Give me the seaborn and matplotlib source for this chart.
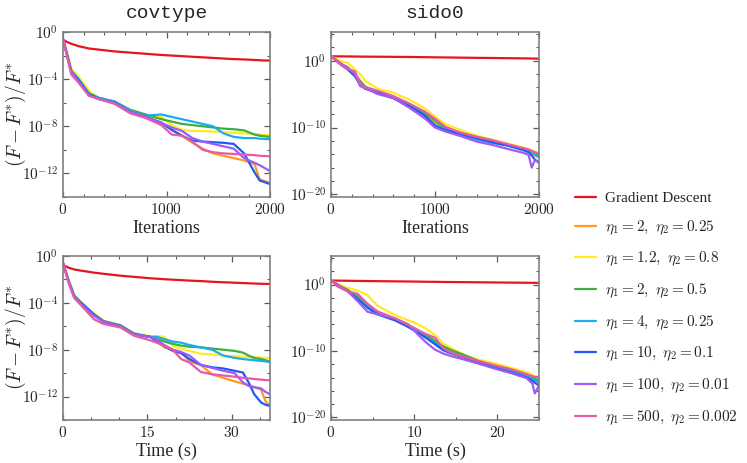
import matplotlib
matplotlib.use("Agg")
import matplotlib.pyplot as plt
from matplotlib.ticker import FixedLocator, MultipleLocator, NullFormatter
import numpy as np
import pandas as pd
import seaborn as sns

# legend entries, in drawing order
series_labels = [
    "Gradient Descent",
    r"$\eta_1 = 2,\ \eta_2 = 0.25$",
    r"$\eta_1 = 1.2,\ \eta_2 = 0.8$",
    r"$\eta_1 = 2,\ \eta_2 = 0.5$",
    r"$\eta_1 = 4,\ \eta_2 = 0.25$",
    r"$\eta_1 = 10,\ \eta_2 = 0.1$",
    r"$\eta_1 = 100,\ \eta_2 = 0.01$",
    r"$\eta_1 = 500,\ \eta_2 = 0.002$",
]
series_colors = ["#e6141e", "#ff9a1e", "#ffeb1e", "#3caf3c",
                 "#1eaaf0", "#1e5af5", "#a05af5", "#e65aaa"]

# covtype, x = iterations; values are log10 of the relative gap
cov_iter_x = [0, 40, 80, 150, 250, 350, 500, 650, 800, 950, 1050,
              1150, 1250, 1350, 1450, 1550, 1650, 1750, 1850, 1900, 2000]
cov_iter_exp = [
    [-0.65, -0.85, -1.0, -1.2, -1.4, -1.5, -1.65, -1.75, -1.85, -1.95, -2.0,
     -2.05, -2.1, -2.15, -2.2, -2.25, -2.3, -2.33, -2.37, -2.4, -2.43],
    [-0.6, -2.0, -3.4, -4.1, -5.3, -5.6, -6.0, -6.8, -7.2, -7.7, -8.3,
     -8.8, -9.4, -9.9, -10.3, -10.5, -10.7, -10.9, -11.2, -12.5, -12.8],
    [-0.6, -1.7, -3.1, -3.8, -5.0, -5.6, -6.0, -6.7, -7.0, -7.2, -7.9,
     -8.3, -8.4, -8.4, -8.45, -8.5, -8.55, -8.6, -8.65, -8.7, -8.75],
    [-0.6, -1.9, -3.3, -4.0, -5.2, -5.6, -5.9, -6.6, -7.0, -7.4, -7.6,
     -7.8, -7.9, -8.0, -8.1, -8.2, -8.25, -8.35, -8.7, -8.8, -8.9],
    [-0.6, -1.9, -3.3, -4.0, -5.3, -5.6, -5.9, -6.7, -7.1, -7.0, -7.2,
     -7.4, -7.6, -7.8, -8.0, -8.6, -8.9, -9.0, -9.0, -9.05, -9.1],
    [-0.6, -2.0, -3.4, -4.1, -5.3, -5.7, -6.0, -6.8, -7.2, -7.7, -8.3,
     -8.8, -9.2, -9.3, -9.35, -9.4, -9.5, -10.3, -11.9, -12.6, -12.9],
    [-0.6, -2.0, -3.4, -4.2, -5.4, -5.7, -6.0, -6.8, -7.2, -7.7, -8.1,
     -8.4, -9.0, -9.3, -9.5, -9.7, -9.9, -10.7, -11.1, -11.3, -11.8],
    [-0.6, -2.1, -3.6, -4.3, -5.4, -5.7, -6.1, -6.9, -7.3, -7.9, -8.7,
     -8.8, -9.3, -10.0, -10.2, -10.3, -10.35, -10.4, -10.45, -10.5, -10.55],
]

# covtype, x = time (s)
cov_time_x = [0, 1.0, 2.0, 3.2, 5.5, 7.2, 10.2, 12.6, 15.5, 16.7, 18.0, 19.5,
              21.0, 22.5, 24.5, 26.5, 28.5, 30.5, 32.0, 33.0, 34.0, 35.2, 36.0, 36.8]
cov_time_exp = [
    [-0.77, -1.0, -1.15, -1.25, -1.42, -1.52, -1.68, -1.78, -1.9, -1.94, -1.98, -2.02,
     -2.06, -2.1, -2.14, -2.2, -2.24, -2.28, -2.31, -2.33, -2.35, -2.37, -2.38, -2.39],
    [-0.6, -2.2, -3.5, -4.0, -5.0, -5.6, -6.0, -6.7, -6.9, -7.2, -7.8, -8.0,
     -8.2, -9.0, -9.3, -10.1, -10.4, -10.7, -10.9, -11.0, -11.2, -11.4, -12.4, -12.8],
    [-0.6, -2.0, -3.3, -3.9, -4.9, -5.5, -6.0, -6.6, -6.85, -6.85, -6.9, -7.7,
     -7.9, -8.1, -8.35, -8.4, -8.5, -8.55, -8.6, -8.62, -8.65, -8.68, -8.7, -8.7],
    [-0.6, -2.1, -3.4, -4.0, -5.0, -5.55, -5.9, -6.6, -6.9, -7.1, -7.3, -7.5,
     -7.65, -7.75, -7.8, -7.9, -8.0, -8.1, -8.25, -8.5, -8.7, -8.8, -8.9, -9.0],
    [-0.6, -2.1, -3.4, -4.0, -5.0, -5.6, -6.0, -6.7, -6.9, -6.9, -7.1, -7.3,
     -7.4, -7.6, -7.8, -8.0, -8.5, -8.7, -8.8, -8.85, -8.9, -8.95, -9.0, -9.05],
    [-0.6, -2.2, -3.5, -4.0, -5.0, -5.6, -6.0, -6.7, -6.9, -7.3, -7.7, -8.1,
     -8.3, -8.8, -9.3, -9.5, -9.6, -9.8, -9.95, -10.8, -11.8, -12.5, -12.7, -12.8],
    [-0.6, -2.2, -3.5, -4.1, -5.1, -5.6, -6.0, -6.7, -6.9, -7.2, -7.6, -8.0,
     -8.2, -8.5, -9.3, -9.55, -9.8, -10.0, -10.8, -11.1, -11.2, -11.3, -11.6, -11.8],
    [-0.6, -2.3, -3.6, -4.2, -5.4, -5.8, -6.1, -6.8, -7.2, -7.4, -7.7, -8.0,
     -8.8, -9.1, -9.9, -10.1, -10.2, -10.3, -10.4, -10.45, -10.5, -10.55, -10.6, -10.6],
]

# sido0, x = iterations
sido_iter_x = [0, 100, 160, 230, 280, 330, 450, 600, 750, 900, 1000,
               1100, 1250, 1400, 1550, 1700, 1850, 1900, 1930, 1960, 2000]
sido_iter_exp = [
    [0.66, 0.65, 0.64, 0.63, 0.62, 0.61, 0.6, 0.58, 0.56, 0.53, 0.51,
     0.49, 0.46, 0.43, 0.41, 0.38, 0.35, 0.34, 0.33, 0.32, 0.3],
    [0.66, -0.5, -1.1, -2.3, -3.4, -4.1, -4.7, -5.6, -6.6, -7.9, -9.2,
     -10.2, -10.9, -11.5, -12.1, -12.6, -13.2, -13.5, -13.8, -14.2, -14.5],
    [0.66, -0.1, -0.3, -1.3, -2.0, -3.0, -4.2, -4.8, -5.8, -7.1, -8.4,
     -9.5, -10.4, -11.2, -11.8, -12.4, -13.0, -13.2, -13.4, -13.6, -13.8],
    [0.66, -0.5, -1.0, -2.0, -3.0, -3.9, -4.6, -5.4, -6.4, -7.8, -8.9,
     -10.1, -10.8, -11.4, -12.0, -12.6, -13.2, -13.4, -13.7, -14.0, -14.3],
    [0.66, -0.6, -1.2, -2.3, -3.5, -4.1, -4.8, -5.6, -6.8, -8.1, -9.6,
     -10.3, -11.1, -11.8, -12.3, -12.7, -13.2, -13.4, -13.7, -14.0, -14.4],
    [0.66, -0.6, -1.3, -2.3, -3.6, -4.2, -4.8, -5.6, -6.7, -8.2, -9.8,
     -10.4, -11.0, -11.6, -12.2, -12.7, -13.4, -13.7, -14.2, -14.8, -15.3],
    [0.66, -0.5, -1.0, -2.0, -3.8, -4.1, -5.0, -5.6, -7.0, -8.6, -10.0,
     -10.6, -11.3, -12.1, -12.6, -13.2, -13.8, -14.1, -16.0, -14.9, -15.1],
    [0.66, -0.7, -1.2, -1.6, -3.4, -4.0, -4.5, -5.3, -6.4, -7.6, -8.7,
     -9.9, -10.8, -11.4, -11.9, -12.5, -13.1, -13.3, -13.5, -13.7, -13.9],
]

# sido0, x = time (s)
sido_time_x = [0, 0.8, 2.0, 3.2, 4.4, 5.6, 7.7, 9.3, 10.5, 11.5, 12.5,
               13.5, 14.5, 16.0, 17.7, 19.8, 21.8, 23.5, 24.2, 24.5, 25.0]
sido_time_exp = [
    [0.6, 0.59, 0.57, 0.55, 0.53, 0.51, 0.48, 0.46, 0.44, 0.42, 0.41,
     0.39, 0.38, 0.36, 0.34, 0.31, 0.29, 0.27, 0.26, 0.26, 0.25],
    [0.66, -0.1, -0.9, -2.0, -3.4, -4.3, -5.3, -6.2, -7.0, -7.9, -8.6,
     -9.5, -10.0, -10.7, -11.6, -12.5, -13.2, -13.8, -14.1, -14.3, -14.6],
    [0.66, 0.1, -0.5, -0.9, -1.6, -3.2, -4.6, -5.4, -6.0, -6.7, -7.6,
     -8.9, -9.6, -10.6, -11.3, -11.9, -12.6, -13.2, -13.6, -13.8, -14.1],
    [0.66, -0.1, -0.8, -1.8, -3.2, -4.2, -5.2, -6.1, -6.9, -7.7, -8.5,
     -9.3, -9.9, -10.6, -11.5, -12.3, -13.0, -13.6, -14.0, -14.2, -14.5],
    [0.66, -0.2, -1.0, -2.1, -3.4, -4.4, -5.3, -6.3, -7.2, -8.0, -8.8,
     -9.7, -10.3, -10.9, -11.7, -12.5, -13.2, -13.8, -14.2, -14.4, -14.8],
    [0.66, -0.2, -1.0, -2.2, -3.5, -4.5, -5.4, -6.4, -7.3, -8.1, -9.0,
     -9.9, -10.4, -11.0, -11.8, -12.6, -13.3, -14.0, -14.5, -14.8, -15.2],
    [0.66, 0.0, -1.0, -2.5, -4.1, -4.5, -5.1, -6.0, -7.6, -8.8, -9.8,
     -10.4, -10.8, -11.3, -11.9, -12.7, -13.4, -14.1, -14.9, -16.4, -15.2],
    [0.66, -0.3, -1.0, -1.4, -2.9, -4.05, -5.1, -6.1, -6.9, -7.5, -8.0,
     -9.6, -10.3, -10.9, -11.5, -12.2, -12.8, -13.5, -13.8, -13.9, -13.9],
]


def panel_frame(x, exps):
    rows = []
    for label, vals in zip(series_labels, exps):
        for xv, e in zip(x, vals):
            rows.append((xv, 10.0 ** e, label))
    return pd.DataFrame(rows, columns=["x", "gap", "method"])


sns.set_style("ticks")
plt.rcParams["font.family"] = ["Liberation Serif", "DejaVu Serif"]
plt.rcParams["mathtext.fontset"] = "cm"

fig = plt.figure(figsize=(7.47, 4.63), dpi=100)
W, H = 747, 463
boxes = {
    "tl": [63 / W, 1 - 197 / H, 207 / W, 165 / H],
    "tr": [331 / W, 1 - 197 / H, 208 / W, 165 / H],
    "bl": [63 / W, 1 - 420 / H, 207 / W, 164 / H],
    "br": [331 / W, 1 - 420 / H, 208 / W, 164 / H],
}
palette = dict(zip(series_labels, series_colors))

panels = [
    ("tl", cov_iter_x, cov_iter_exp, "covtype"),
    ("tr", sido_iter_x, sido_iter_exp, "sido0"),
    ("bl", cov_time_x, cov_time_exp, "covtype"),
    ("br", sido_time_x, sido_time_exp, "sido0"),
]

axes = {}
for key, x, exps, dataset in panels:
    ax = fig.add_axes(boxes[key])
    axes[key] = ax
    sns.lineplot(data=panel_frame(x, exps), x="x", y="gap", hue="method",
                 hue_order=series_labels, palette=palette, linewidth=1.6,
                 estimator=None, legend=(key == "tl"), ax=ax)
    ax.set_yscale("log")
    if dataset == "covtype":
        ax.set_ylim(1e-14, 1)
        ax.set_yticks([1, 1e-4, 1e-8, 1e-12],
                      labels=[r"$10^{0}$", r"$10^{-4}$", r"$10^{-8}$", r"$10^{-12}$"])
        ax.yaxis.set_minor_locator(FixedLocator(10.0 ** np.arange(-14, 1, 2)))
    else:
        ax.set_ylim(10 ** -20.4, 10 ** 4.3)
        ax.set_yticks([1, 1e-10, 1e-20],
                      labels=[r"$10^{0}$", r"$10^{-10}$", r"$10^{-20}$"])
        ax.yaxis.set_minor_locator(FixedLocator(10.0 ** np.arange(-20, 5, 2)))
    ax.yaxis.set_minor_formatter(NullFormatter())

    if key in ("tl", "tr"):
        ax.set_xlim(0, 2000)
        ax.set_xticks([0, 1000, 2000], labels=["$0$", "$1000$", "$2000$"])
        ax.xaxis.set_minor_locator(MultipleLocator(200))
        ax.set_xlabel("Iterations", fontsize=13, labelpad=2)
        ax.set_title(dataset, family="Liberation Mono", fontsize=14, pad=10)
    elif key == "bl":
        ax.set_xlim(0, 36.8)
        ax.set_xticks([0, 15, 30], labels=["$0$", "$15$", "$30$"])
        ax.xaxis.set_minor_locator(MultipleLocator(5))
        ax.set_xlabel("Time (s)", fontsize=13, labelpad=2)
    else:
        ax.set_xlim(0, 25)
        ax.set_xticks([0, 10, 20], labels=["$0$", "$10$", "$20$"])
        ax.xaxis.set_minor_locator(MultipleLocator(5))
        ax.set_xlabel("Time (s)", fontsize=13, labelpad=2)

    if key in ("tl", "bl"):
        ax.set_ylabel(r"$(F - F^{*})/F^{*}$", fontsize=14)
        ax.yaxis.set_label_coords(-0.17, 0.5)
    else:
        ax.set_ylabel("")

    ax.tick_params(which="both", direction="in", top=True, right=True,
                   color="0.35", labelsize=11)
    ax.tick_params(which="major", length=4, width=0.9)
    ax.tick_params(which="minor", length=2.5, width=0.8)
    for sp in ax.spines.values():
        sp.set_color("0.5")
        sp.set_linewidth(1.2)

handles, labels = axes["tl"].get_legend_handles_labels()
axes["tl"].get_legend().remove()
fig.legend(handles, labels, loc="center left", bbox_to_anchor=(575 / W, 1 - 309 / H),
           frameon=False, fontsize=11, borderpad=0, borderaxespad=0,
           handlelength=1.35, handletextpad=0.6, labelspacing=0.87)

fig.savefig("out.png", dpi=100)
